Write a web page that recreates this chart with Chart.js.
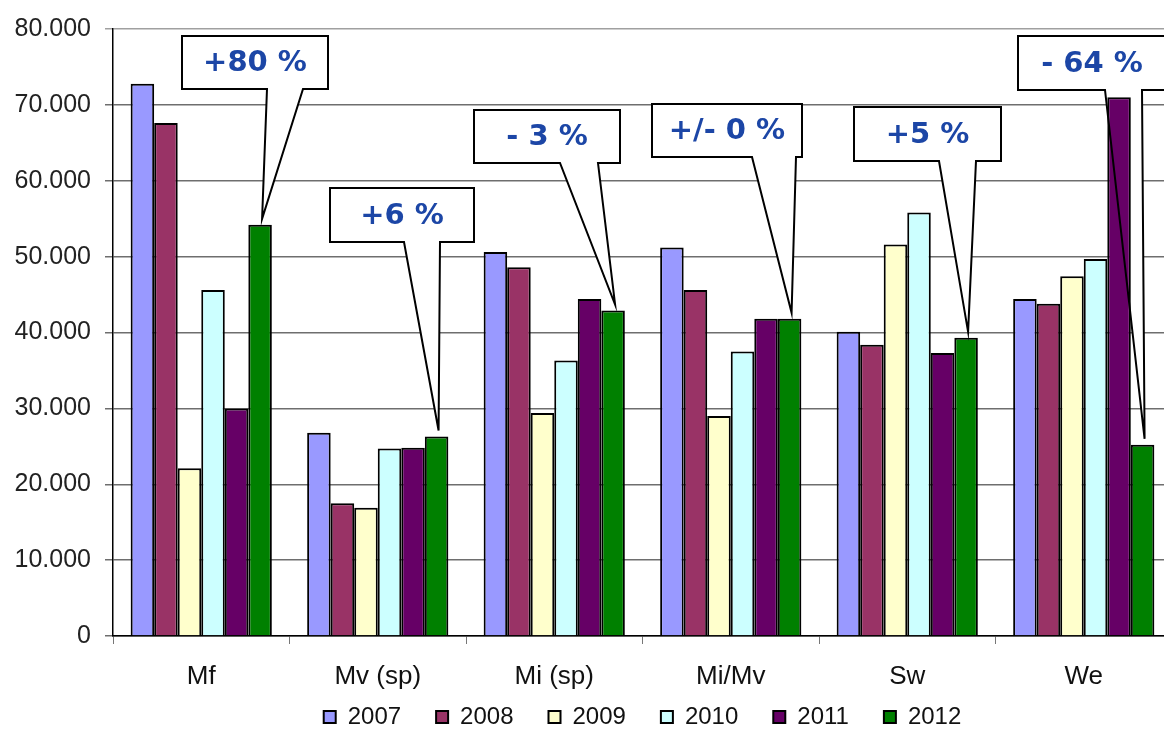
<!DOCTYPE html>
<html>
<head>
<meta charset="utf-8">
<script src="https://cdn.jsdelivr.net/npm/chart.js@4.4.0/dist/chart.umd.min.js"></script>
<style>
    html, body { margin: 0; padding: 0; background: #fff; overflow: hidden; }
    #wrap { position: relative; width: 1180px; height: 739px; }
</style>
</head>
<body>
<div id="wrap"><canvas id="barChart"></canvas></div>
<script>
// Data
const categories = ['Mf', 'Mv (sp)', 'Mi (sp)', 'Mi/Mv', 'Sw', 'We'];
const years = ['2007', '2008', '2009', '2010', '2011', '2012'];
const values2007 = [72800, 26800, 50600, 51200, 40100, 44400];
const values2008 = [67600, 17500, 48600, 45600, 38400, 43800];
const values2009 = [22100, 16900, 29400, 29000, 51600, 47400];
const values2010 = [45600, 24700, 36300, 37500, 55800, 49700];
const values2011 = [30000, 24800, 44400, 41800, 37300, 71000];
const values2012 = [54200, 26300, 42900, 41800, 39300, 25200];
const changeLabels = ['+80 %', '+6 %', '- 3 %', '+/- 0 %', '+5 %', '- 64 %'];
const yMin = 0;
const yMax = 80000;
const yStep = 10000;

// Styles
const barColors = ['#9999ff', '#993366', '#ffffcc', '#ccffff', '#660066', '#008000'];
const axisFont = 'Liberation Sans, Arial, sans-serif';

// Callout boxes: [left, top, width, height, wedge left, wedge right]
const calloutBoxes = [
    [182, 36, 146, 53, 267, 303],
    [330, 188, 144, 54, 404, 440],
    [474, 110, 146, 53, 560, 598],
    [652, 104, 150, 53, 752, 796],
    [854, 107, 147, 54, 939, 976],
    [1018, 36, 148, 54, 1105, 1142]
];

function formatThousands(v) {
    return String(v).replace(/\B(?=(\d{3})+(?!\d))/g, '.');
}

// x labels sit below the fixed-height x box; widen its clip area
const labelRoomPlugin = {
    id: 'labelRoom',
    afterLayout(chart) {
        chart.scales.x.bottom = chart.height;
    }
};

function calloutPath(ctx, box, tipX, tipY) {
    const [bx, by, w, h, wl, wr] = box;
    ctx.beginPath();
    ctx.moveTo(bx, by);
    ctx.lineTo(bx + w, by);
    ctx.lineTo(bx + w, by + h);
    ctx.lineTo(wr, by + h);
    ctx.lineTo(tipX, tipY);
    ctx.lineTo(wl, by + h);
    ctx.lineTo(bx, by + h);
    ctx.closePath();
}

// white fill goes under the bars, outline and text on top
const calloutPlugin = {
    id: 'callouts',
    beforeDatasetsDraw(chart) {
        const ctx = chart.ctx;
        const meta = chart.getDatasetMeta(years.length - 1);
        ctx.save();
        changeLabels.forEach((text, i) => {
            const bar = meta.data[i];
            if (!bar) return;
            calloutPath(ctx, calloutBoxes[i], bar.x + 2, bar.y - 6);
            ctx.fillStyle = '#ffffff';
            ctx.fill();
        });
        ctx.restore();
    },
    afterDatasetsDraw(chart) {
        const ctx = chart.ctx;
        const meta = chart.getDatasetMeta(years.length - 1);
        ctx.save();
        changeLabels.forEach((text, i) => {
            const bar = meta.data[i];
            if (!bar) return;
            const [bx, by, w, h] = calloutBoxes[i];
            ctx.fillStyle = '#ffffff';
            ctx.fillRect(bx, by, w, h);
            calloutPath(ctx, calloutBoxes[i], bar.x + 2, bar.y - 6);
            ctx.lineWidth = 2;
            ctx.strokeStyle = '#000000';
            ctx.lineJoin = 'miter';
            ctx.stroke();

            ctx.fillStyle = '#1c46a6';
            ctx.font = 'bold 29px "DejaVu Sans", Verdana, sans-serif';
            ctx.textAlign = 'center';
            ctx.textBaseline = 'middle';
            ctx.fillText(text, bx + w / 2, by + h / 2 + 1);
        });
        ctx.restore();
    }
};

const seriesValues = [values2007, values2008, values2009, values2010, values2011, values2012];

const ctx = document.getElementById('barChart').getContext('2d');
const barChart = new Chart(ctx, {
    type: 'bar',
    data: {
        labels: categories,
        datasets: years.map((year, i) => ({
            label: year,
            data: seriesValues[i],
            backgroundColor: barColors[i],
            borderColor: '#000000',
            borderWidth: 2,
            categoryPercentage: 0.8,
            barPercentage: 1.0
        }))
    },
    options: {
        responsive: true,
        maintainAspectRatio: false,
        animation: false,
        layout: {
            padding: { top: 24, right: 8, bottom: 0, left: 0 }
        },
        plugins: {
            legend: {
                position: 'bottom',
                fullSize: false,
                labels: {
                    boxWidth: 12,
                    boxHeight: 12,
                    padding: 35,
                    color: '#111',
                    font: { family: axisFont, size: 24 }
                }
            },
            tooltip: { enabled: false }
        },
        scales: {
            x: {
                afterFit(scale) { scale.height = 34; },
                grid: {
                    offset: true,
                    drawOnChartArea: false,
                    drawTicks: true,
                    tickLength: 8,
                    color: '#777'
                },
                border: { color: '#000', width: 1.5 },
                ticks: {
                    padding: 17,
                    color: '#111',
                    font: { family: axisFont, size: 26 }
                }
            },
            y: {
                min: yMin,
                max: yMax,
                afterFit(scale) { scale.width = 113; },
                grid: {
                    color: (c) => (c.tick && c.tick.value === yMax ? '#a0a0a0' : '#6e6e6e'),
                    lineWidth: 1.5,
                    tickLength: 8
                },
                border: { color: '#000', width: 1.5 },
                ticks: {
                    stepSize: yStep,
                    padding: 14,
                    color: '#222',
                    font: { family: axisFont, size: 25 },
                    callback: (v) => formatThousands(v)
                }
            }
        }
    },
    plugins: [labelRoomPlugin, calloutPlugin]
});
</script>
</body>
</html>
